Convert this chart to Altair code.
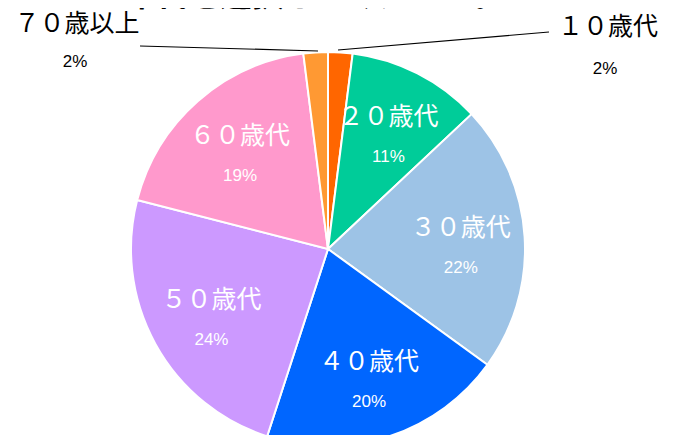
import altair as alt
import pandas as pd

categories = ["１０歳代", "２０歳代", "３０歳代", "４０歳代", "５０歳代", "６０歳代", "７０歳以上"]
values = [2, 11, 22, 20, 24, 19, 2]
colors = ["#FF6600", "#00CC99", "#9DC3E6", "#0066FF", "#CC99FF", "#FF99CC", "#FF9933"]
title_text = "年代を選択してください。"

df = pd.DataFrame({"cat": categories, "value": values, "idx": list(range(len(categories)))})
df["pct"] = df["value"].astype(str) + "%"

CX, CY, R = 320, 241, 197
LR = 133

base = alt.Chart(df).transform_calculate(
    name_in="datum.idx > 0 && datum.idx < 6 ? datum.cat : ''",
    pct_in="datum.idx > 0 && datum.idx < 6 ? datum.pct : ''",
).encode(
    theta=alt.Theta("value:Q", stack=True),
    order=alt.Order("idx:Q"),
)

pie = base.mark_arc(stroke="white", strokeWidth=2).encode(
    color=alt.Color("cat:N", scale=alt.Scale(domain=categories, range=colors), legend=None),
    x=alt.value(CX), y=alt.value(CY), radius=alt.value(R),
)

name_lbl = base.mark_text(
    font="Noto Sans CJK JP", fontSize=25, color="white", dy=-13
).encode(x=alt.value(CX), y=alt.value(CY), radius=alt.value(LR), text="name_in:N")

pct_lbl = base.mark_text(
    font="Liberation Sans", fontSize=17, color="white", dy=27
).encode(x=alt.value(CX), y=alt.value(CY), radius=alt.value(LR), text="pct_in:N")

out = alt.Chart(df)
o70_name = out.transform_filter(alt.datum.idx == 6).mark_text(
    font="Noto Sans CJK JP", fontSize=25, color="black"
).encode(x=alt.value(69), y=alt.value(16), text="cat:N")
o70_pct = out.transform_filter(alt.datum.idx == 6).mark_text(
    font="Liberation Sans", fontSize=17, color="black"
).encode(x=alt.value(67), y=alt.value(54), text="pct:N")
o10_name = out.transform_filter(alt.datum.idx == 0).mark_text(
    font="Noto Sans CJK JP", fontSize=25, color="black"
).encode(x=alt.value(600), y=alt.value(19), text="cat:N")
o10_pct = out.transform_filter(alt.datum.idx == 0).mark_text(
    font="Liberation Sans", fontSize=17, color="black"
).encode(x=alt.value(597), y=alt.value(61), text="pct:N")

line70 = out.transform_filter(alt.datum.idx == 6).mark_rule(color="black", strokeWidth=1.2).encode(
    x=alt.value(132), y=alt.value(38), x2=alt.value(310), y2=alt.value(43)
)
line10 = out.transform_filter(alt.datum.idx == 0).mark_rule(color="black", strokeWidth=1.2).encode(
    x=alt.value(330), y=alt.value(42), x2=alt.value(541), y2=alt.value(24)
)

title = alt.Chart(pd.DataFrame({"t": [title_text]})).mark_text(
    font="Noto Sans CJK JP", fontSize=32, fontWeight="bold", color="black", baseline="alphabetic"
).encode(x=alt.value(307), y=alt.value(-2), text="t:N")

chart = alt.layer(
    pie, name_lbl, pct_lbl, line70, line10, o70_name, o70_pct, o10_name, o10_pct, title
).properties(
    width=661, height=427, padding=0,
    autosize=alt.AutoSizeParams(type="none"),
).configure_view(stroke=None)

chart.save("out.html", embed_options={"renderer": "svg", "actions": False})
